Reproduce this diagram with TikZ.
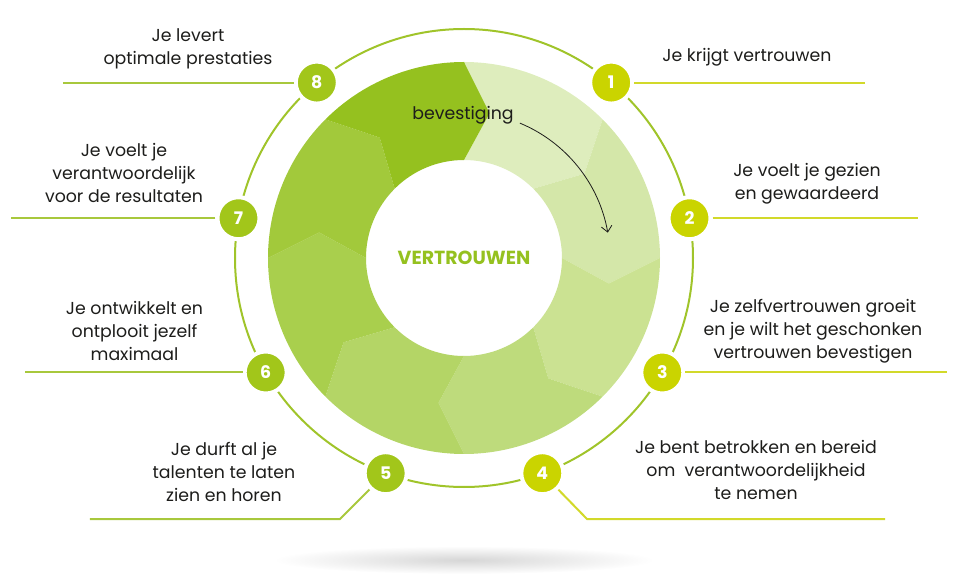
\documentclass[tikz,border=0pt]{standalone}
\usepackage{fontspec}
\setmainfont{Poppins}
\usetikzlibrary{arrows.meta,calc}
\definecolor{segA}{HTML}{DEEDBD}
\definecolor{segB}{HTML}{D4E7A9}
\definecolor{segC}{HTML}{CBE292}
\definecolor{segD}{HTML}{BEDB7C}
\definecolor{segE}{HTML}{B4D566}
\definecolor{segF}{HTML}{A9CF4D}
\definecolor{segG}{HTML}{A2C93B}
\definecolor{segH}{HTML}{95C11F}
\definecolor{lime}{HTML}{CAD400}
\definecolor{leaf}{HTML}{A2C61A}
\definecolor{limeline}{HTML}{D2D92A}
\definecolor{leafline}{HTML}{A8C83C}
\definecolor{ringgreen}{HTML}{A0C42A}
\definecolor{ink}{HTML}{1D1D1B}
\tikzset{
  badge/.style={
      circle,
      draw=white,
      line width=3pt,
      minimum size=31.5pt,
      inner sep=0pt,
      text=white,
      font=\fontsize{13}{14}\selectfont\bfseries
  },
  caption/.style={
      align=center,
      text=ink,
      font=\fontsize{13}{17.25}\selectfont
  },
  yline/.style={draw=limeline, line width=1.5pt},
  gline/.style={draw=leafline, line width=1.5pt}
}
\begin{document}
\begin{tikzpicture}[x=0.75pt,y=0.75pt]
    \useasboundingbox (-464,-316) rectangle (496,258);
    \shade[inner color=black!16, outer color=white] (0,-302) ellipse[x radius=190, y radius=14];
    \foreach \col [count=\k] in {segA,segB,segC,segD,segE,segF,segG,segH}{
        \pgfmathsetmacro{\a}{90-45*(\k-1)}
        \fill[\col] (\a:196) arc[start angle=\a, end angle=\a-45, radius=196]
            -- (\a-55:147) -- (\a-45:98) arc[start angle=\a-45, end angle=\a, radius=98]
            -- (\a-10:147) -- cycle;
    }
    \node[font=\fontsize{14.2}{16}\selectfont\bfseries, text=segH] (core) at (0,0) {VERTROUWEN};
    \node[caption] (bev) at (-1,143) {bevestiging};
    \coordinate (a1) at (67.5:146);
    \coordinate (a2) at (10:146);
    \draw[ink, line width=0.6pt, -{Straight Barb[length=4.5pt,width=8pt]}] (a1) arc[start angle=67.5, end angle=10, radius=146];
    \draw[draw=ringgreen, line width=1.5pt] (0,0) circle[radius=229];
    \node[badge, fill=lime] (b1) at (50:229) {1};
    \node[badge, fill=lime] (b2) at (10:229) {2};
    \node[badge, fill=lime] (b3) at (-30:229) {3};
    \node[badge, fill=lime] (b4) at (-70:229) {4};
    \node[badge, fill=leaf] (b5) at (-110:229) {5};
    \node[badge, fill=leaf] (b6) at (-150:229) {6};
    \node[badge, fill=leaf] (b7) at (170:229) {7};
    \node[badge, fill=leaf] (b8) at (130:229) {8};
    \coordinate (e1) at (401,0);
    \coordinate (e2) at (454,0);
    \coordinate (e3) at (483,0);
    \coordinate (k4) at (123,-261);
    \coordinate (e4) at (421,-261);
    \coordinate (k5) at (-124,-261);
    \coordinate (e5) at (-374,-261);
    \coordinate (e6) at (-439,0);
    \coordinate (e7) at (-453,0);
    \coordinate (e8) at (-401,0);
    \draw[yline] (b1) -- (b1 -| e1);
    \draw[yline] (b2) -- (b2 -| e2);
    \draw[yline] (b3) -- (b3 -| e3);
    \draw[yline] (b4) -- (k4) -- (e4);
    \draw[gline] (b5) -- (k5) -- (e5);
    \draw[gline] (b6) -- (b6 -| e6);
    \draw[gline] (b7) -- (b7 -| e7);
    \draw[gline] (b8) -- (b8 -| e8);
    \node[caption] (t1) at (283,201) {Je krijgt vertrouwen};
    \node[caption] (t2) at (343,74.5) {Je voelt je gezien\\en gewaardeerd};
    \node[caption] (t3) at (349,-73) {Je zelfvertrouwen groeit\\en je wilt het geschonken\\vertrouwen bevestigen};
    \node[caption] (t4) at (292,-212) {Je bent betrokken en bereid\\om\ \ verantwoordelijkheid\\te nemen};
    \node[caption] (t5) at (-240,-214) {Je durft al je\\talenten te laten\\zien en horen};
    \node[caption] (t6) at (-329.5,-73) {Je ontwikkelt en\\ontplooit jezelf\\maximaal};
    \node[caption] (t7) at (-340,85) {Je voelt je\\verantwoordelijk\\voor de resultaten};
    \node[caption] (t8) at (-276,209.5) {Je levert\\optimale prestaties};
\end{tikzpicture}
\end{document}
